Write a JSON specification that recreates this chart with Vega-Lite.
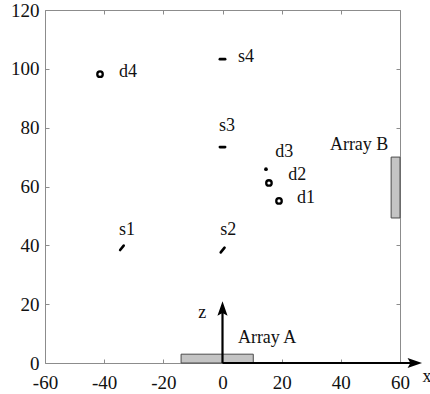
{
  "$schema": "https://vega.github.io/schema/vega-lite/v6.json",
  "autosize": "none",
  "padding": {"left": 45, "top": 10, "right": 30, "bottom": 31},
  "width": 355,
  "height": 353,
  "config": {
    "view": {"stroke": null},
    "font": "Liberation Serif",
    "style": {"guide-label": {"font": "Liberation Serif", "fontSize": 19, "fill": "#111"}},
    "axis": {"grid": false, "domainColor": "#8c8c8c", "tickColor": "#8c8c8c", "labelFont": "Liberation Serif", "labelFontSize": 19, "labelColor": "#111", "tickSize": -4, "title": null}
  },
  "datasets": {
    "arrays": [
      {"name": "Array A", "x": -14, "x2": 10.4, "y": 0, "y2": 3},
      {"name": "Array B", "x": 57, "x2": 60, "y": 49.3, "y2": 70}
    ],
    "detectors": [
      {"name": "d1", "x": 19.1, "y": 55.1, "kind": "ring"},
      {"name": "d2", "x": 15.7, "y": 61.2, "kind": "ring"},
      {"name": "d3", "x": 14.7, "y": 65.9, "kind": "dot"},
      {"name": "d4", "x": -41.4, "y": 98.2, "kind": "ring"}
    ],
    "sensors": [
      {"name": "s1", "x": -34.6, "y": 38.4, "x2": -33.4, "y2": 39.9},
      {"name": "s2", "x": -0.6, "y": 37.6, "x2": 0.7, "y2": 39.2},
      {"name": "s3", "x": -0.9, "y": 73.4, "x2": 0.9, "y2": 73.4},
      {"name": "s4", "x": -0.9, "y": 103.3, "x2": 0.9, "y2": 103.3}
    ],
    "axesArrows": [
      {"name": "z", "x": 0, "y": 0, "x2": 0, "y2": 18.5},
      {"name": "x", "x": 0, "y": 0, "x2": 65, "y2": 0}
    ],
    "labels": [
      {"text": "d1", "x": 25.2, "y": 56.1, "style": "normal"},
      {"text": "d2", "x": 22.2, "y": 63.9, "style": "normal"},
      {"text": "d3", "x": 17.8, "y": 71.7, "style": "normal"},
      {"text": "d4", "x": -35, "y": 98.8, "style": "normal"},
      {"text": "s1", "x": -35, "y": 45.2, "style": "normal"},
      {"text": "s2", "x": -0.8, "y": 45.2, "style": "normal"},
      {"text": "s3", "x": -1.2, "y": 80.6, "style": "normal"},
      {"text": "s4", "x": 5.2, "y": 104, "style": "normal"},
      {"text": "Array B", "x": 36.3, "y": 74.1, "style": "normal"},
      {"text": "Array A", "x": 5.2, "y": 8.5, "style": "normal"},
      {"text": "z", "x": -8.2, "y": 17, "style": "italic"},
      {"text": "x", "x": 67.6, "y": -4.8, "style": "italic"}
    ]
  },
  "resolve": {"scale": {"x": "independent", "y": "independent"}, "axis": {"x": "independent", "y": "independent"}},
  "layer": [
    {
      "layer": [
        {
          "data": {"name": "arrays"},
          "mark": {"type": "rect", "fill": "#c4c4c4", "stroke": "#4a4a4a", "strokeWidth": 1},
          "encoding": {
            "x": {"field": "x", "type": "quantitative", "scale": {"domain": [-60, 60], "nice": false, "zero": false},
              "axis": {"orient": "bottom", "values": [-60, -40, -20, 0, 20, 40, 60], "labelExpr": "'' + datum.value", "labelPadding": 14, "labelFlush": false, "labelFont": "Liberation Serif", "labelFontSize": 19}},
            "x2": {"field": "x2"},
            "y": {"field": "y", "type": "quantitative", "scale": {"domain": [0, 120], "nice": false, "zero": false},
              "axis": {"orient": "left", "values": [0, 20, 40, 60, 80, 100, 120], "labelPadding": 10, "labelFlush": false, "labelFont": "Liberation Serif", "labelFontSize": 19}},
            "y2": {"field": "y2"}
          }
        },
        {
          "data": {"name": "sensors"},
          "mark": {"type": "rule", "color": "#000", "strokeWidth": 2.6, "strokeCap": "round"},
          "encoding": {
            "x": {"field": "x", "type": "quantitative"},
            "y": {"field": "y", "type": "quantitative"},
            "x2": {"field": "x2"},
            "y2": {"field": "y2"}
          }
        },
        {
          "data": {"name": "detectors"},
          "transform": [{"filter": "datum.kind == 'ring'"}],
          "mark": {"type": "point", "shape": "circle", "filled": false, "stroke": "#000", "strokeWidth": 2.3, "size": 30, "opacity": 1},
          "encoding": {
            "x": {"field": "x", "type": "quantitative"},
            "y": {"field": "y", "type": "quantitative"}
          }
        },
        {
          "data": {"name": "detectors"},
          "transform": [{"filter": "datum.kind == 'dot'"}],
          "mark": {"type": "point", "shape": "circle", "filled": true, "fill": "#000", "size": 14, "opacity": 1},
          "encoding": {
            "x": {"field": "x", "type": "quantitative"},
            "y": {"field": "y", "type": "quantitative"}
          }
        },
        {
          "data": {"name": "axesArrows"},
          "mark": {"type": "rule", "color": "#000", "strokeWidth": 2.2},
          "encoding": {
            "x": {"field": "x", "type": "quantitative"},
            "y": {"field": "y", "type": "quantitative"},
            "x2": {"field": "x2"},
            "y2": {"field": "y2"}
          }
        },
        {
          "data": {"name": "axesArrows"},
          "transform": [{"filter": "datum.name == 'z'"}],
          "mark": {"type": "point", "shape": "M0,-1L0.7,1L0,0.6L-0.7,1Z", "filled": true, "fill": "#000", "size": 210, "opacity": 1},
          "encoding": {
            "x": {"field": "x2", "type": "quantitative"},
            "y": {"field": "y2", "type": "quantitative"}
          }
        },
        {
          "data": {"name": "axesArrows"},
          "transform": [{"filter": "datum.name == 'x'"}],
          "mark": {"type": "point", "shape": "M1,0L-1,0.7L-0.6,0L-1,-0.7Z", "filled": true, "fill": "#000", "size": 210, "opacity": 1},
          "encoding": {
            "x": {"field": "x2", "type": "quantitative"},
            "y": {"field": "y2", "type": "quantitative"}
          }
        },
        {
          "data": {"name": "labels"},
          "mark": {"type": "text", "align": "left", "baseline": "middle", "font": "Liberation Serif", "fontSize": 18, "color": "#111"},
          "encoding": {
            "x": {"field": "x", "type": "quantitative"},
            "y": {"field": "y", "type": "quantitative"},
            "text": {"field": "text"},
            "fontStyle": {"field": "style", "type": "nominal", "scale": {"domain": ["normal", "italic"], "range": ["normal", "italic"]}, "legend": null}
          }
        }
      ]
    },
    {
      "data": {"name": "arrays"},
      "mark": {"type": "rect", "opacity": 0},
      "encoding": {
        "x": {"field": "x", "type": "quantitative", "scale": {"domain": [-60, 60], "nice": false, "zero": false},
          "axis": {"orient": "top", "values": [-60, -40, -20, 0, 20, 40, 60], "labels": false}},
        "y": {"field": "y", "type": "quantitative", "scale": {"domain": [0, 120], "nice": false, "zero": false},
          "axis": {"orient": "right", "values": [0, 20, 40, 60, 80, 100, 120], "labels": false}}
      }
    }
  ]
}
